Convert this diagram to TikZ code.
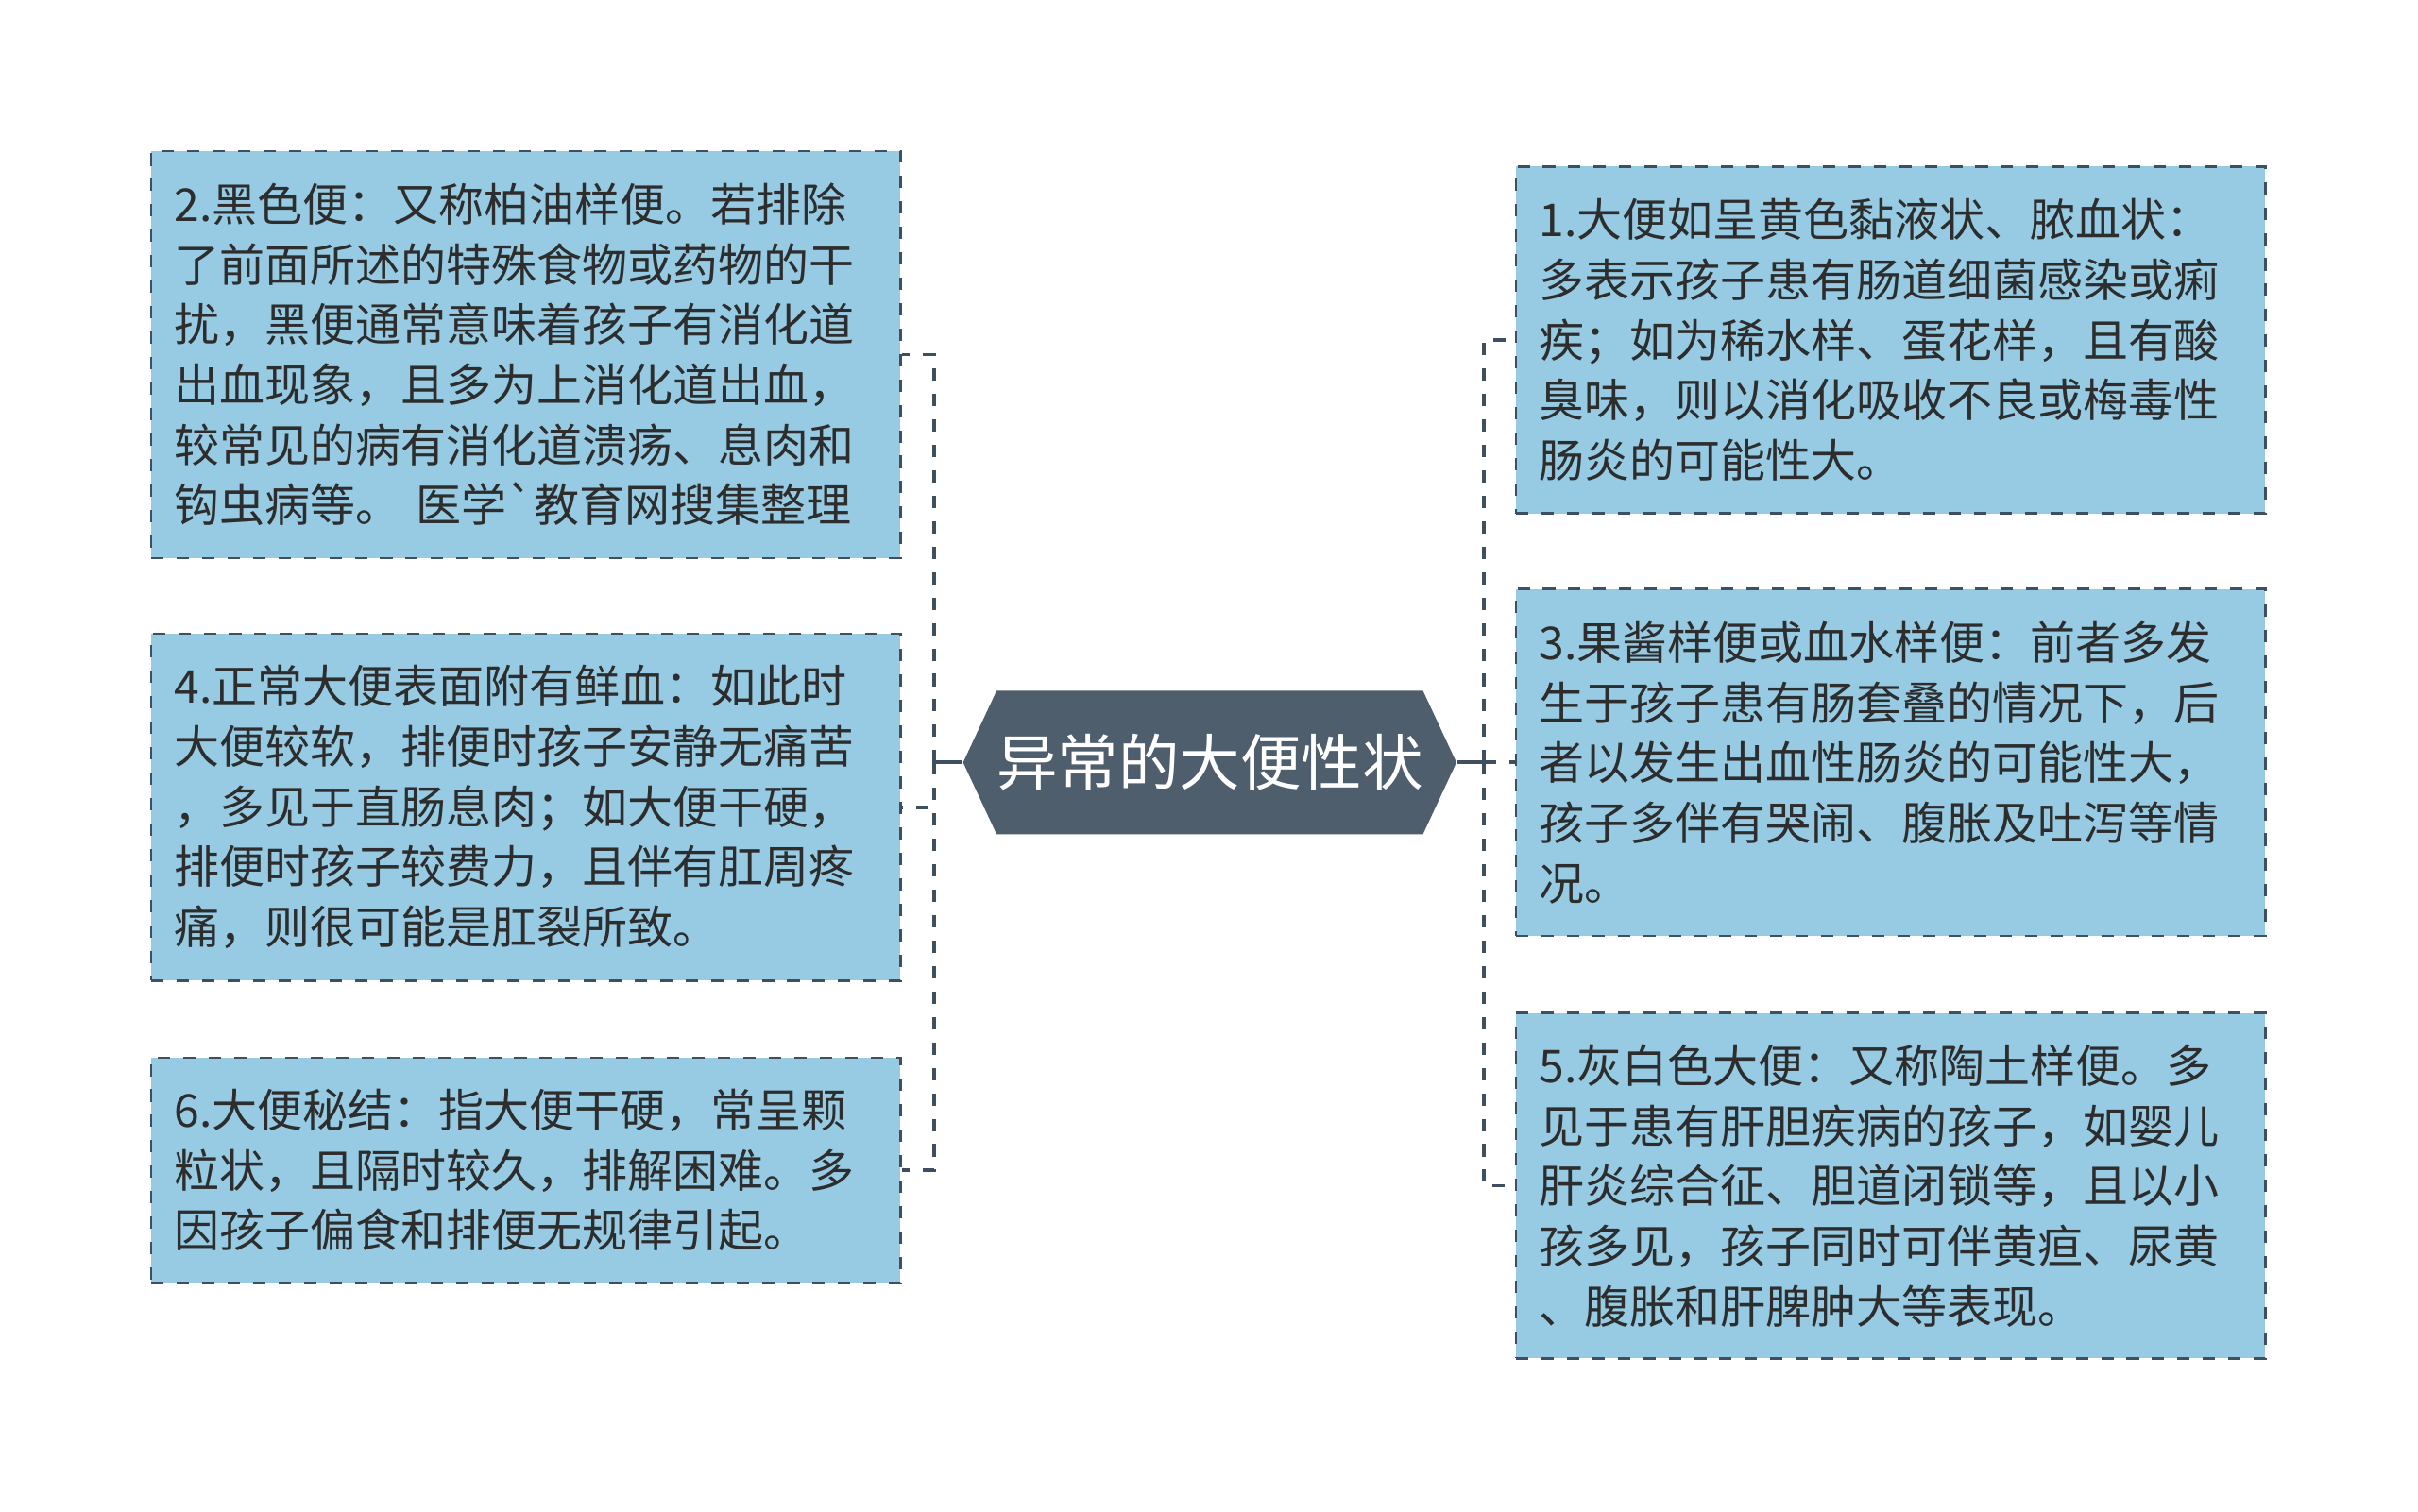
\documentclass[tikz,border=0pt]{standalone}
\usepackage{fontspec}
\setmainfont{Noto Sans CJK SC}
\newfontfamily\plaincjk{Noto Sans CJK SC}
\usetikzlibrary{shapes.symbols}

\definecolor{boxblue}{RGB}{150,203,227}
\definecolor{edgegray}{RGB}{62,80,96}
\definecolor{hexgray}{RGB}{78,94,108}
\definecolor{txtgray}{RGB}{45,45,45}

\tikzset{every picture/.style={line width=0.75pt}}
\tikzset{
  infobox/.style={draw=edgegray, fill=boxblue, line width=1.6pt, dash pattern=on 8pt off 8.5pt,
    text width=456pt, inner xsep=15pt, inner ysep=0pt, align=left, text=txtgray,
    font=\fontsize{29.4}{39}\selectfont},
  linkline/.style={draw=edgegray, line width=2.4pt, dash pattern=on 8pt off 8.5pt},
  stubline/.style={draw=edgegray, line width=2.4pt},
  hexnode/.style={signal, signal to=west and east, signal pointer angle=130, fill=hexgray,
    minimum width=315pt, minimum height=93pt, inner sep=0pt, text=white,
    font=\fontsize{39.5}{41}\selectfont},
}

\begin{document}
\begin{tikzpicture}[x=1pt,y=1pt,yscale=-1,xscale=1]
%set diagram size: 1568 x 980
\fill[white] (0,0) rectangle (1568,980);
\useasboundingbox (0,0) rectangle (1568,980);

%Central topic
\node[hexnode] (main) at (784.5,494.5) {异常的大便性状};

%Left branch
\node[infobox, minimum height=264pt] (b2) at (341,230) {2.黑色便：又称柏油样便。若排除\\了前面所述的特殊食物或药物的干\\扰，黑便通常意味着孩子有消化道\\出血现象，且多为上消化道出血，\\较常见的病有消化道溃疡、息肉和\\钩虫病等。 医学{\plaincjk`}教育网搜集整理};
\node[infobox, minimum height=225pt] (b4) at (341,523.5) {4.正常大便表面附有鲜血：如此时\\大便较软，排便时孩子安静无痛苦\\，多见于直肠息肉；如大便干硬，\\排便时孩子较费力，且伴有肛周疼\\痛，则很可能是肛裂所致。};
\node[infobox, minimum height=146pt] (b6) at (341,759) {6.大便秘结：指大便干硬，常呈颗\\粒状，且隔时较久，排解困难。多\\因孩子偏食和排便无规律引起。};

%Right branch
\node[infobox, minimum height=225pt] (b1) at (1226,220.5) {1.大便如呈黄色黏液状、脓血状：\\多表示孩子患有肠道细菌感染或痢\\疾；如为稀水样、蛋花样，且有酸\\臭味，则以消化吸收不良或梅毒性\\肠炎的可能性大。};
\node[infobox, minimum height=225pt] (b3) at (1226,494.5) {3.果酱样便或血水样便：前者多发\\生于孩子患有肠套叠的情况下，后\\者以发生出血性肠炎的可能性大，\\孩子多伴有哭闹、腹胀及吐泻等情\\况。};
\node[infobox, minimum height=224pt] (b5) at (1226,769) {5.灰白色大便：又称陶土样便。多\\见于患有肝胆疾病的孩子，如婴儿\\肝炎综合征、胆道闭锁等，且以小\\孩多见，孩子同时可伴黄疸、尿黄\\、腹胀和肝脾肿大等表现。};

%Connectors
\coordinate (lbus) at (606,494.5);
\coordinate (rbus) at (962,494.5);
\draw[stubline] (main.west) -- (lbus);
\draw[stubline] (main.east) -- (rbus);
\draw[linkline] (lbus) |- (b2.east);
\draw[linkline] (lbus) |- (b4.east);
\draw[linkline] (lbus) |- (b6.east);
\draw[linkline] (rbus) |- (b1.west);
\draw[linkline] (rbus) |- (b3.west);
\draw[linkline] (rbus) |- (b5.west);

\end{tikzpicture}
\end{document}
